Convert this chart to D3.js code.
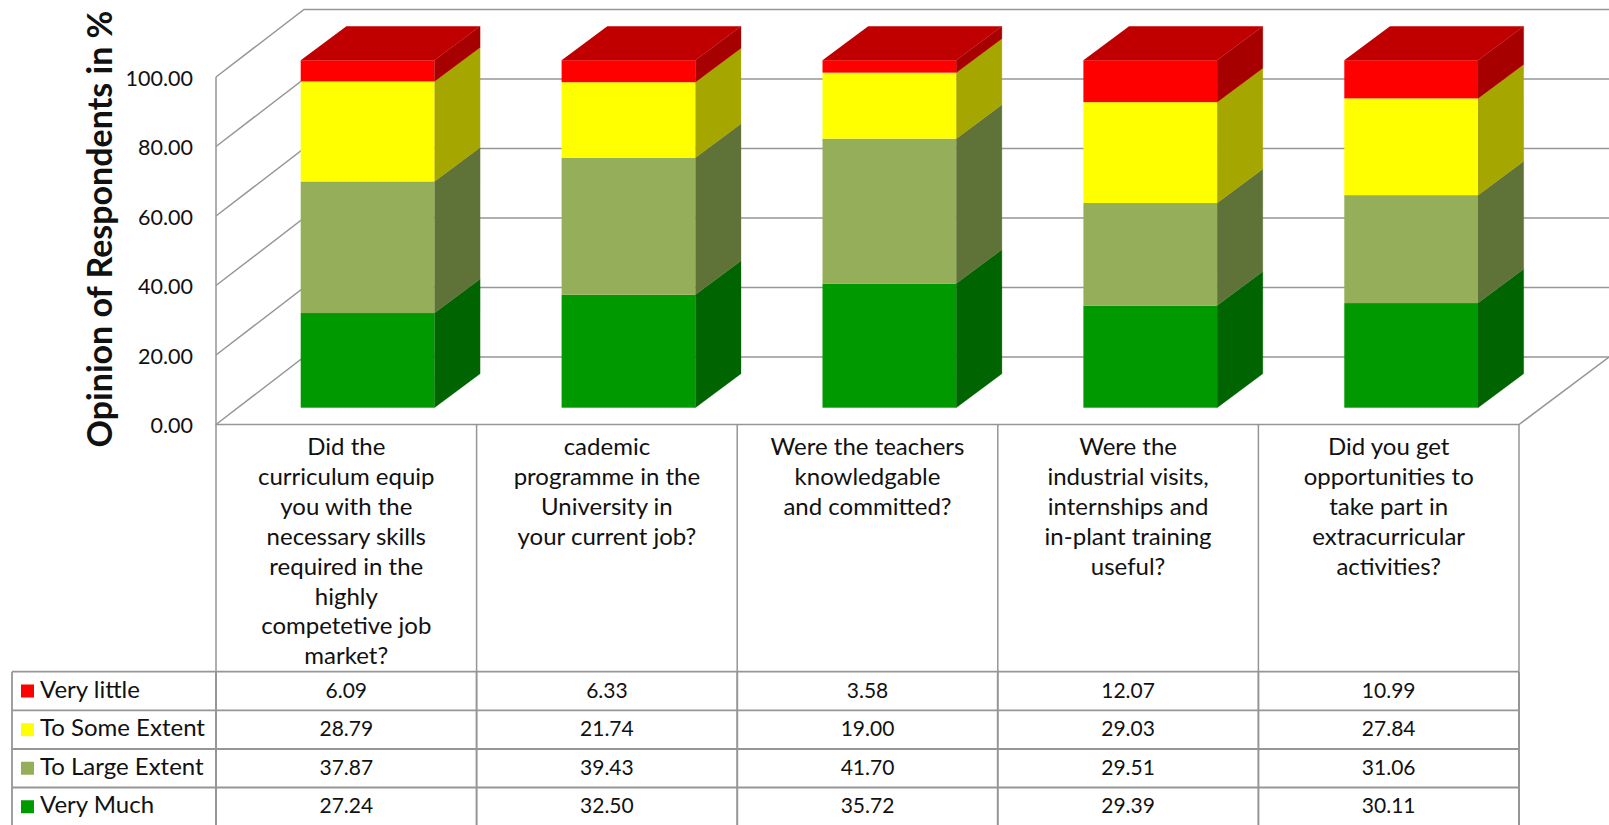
<!DOCTYPE html>
<html><head><meta charset="utf-8">
<script src="https://cdn.jsdelivr.net/npm/d3@7"></script>
<style>html,body{margin:0;background:#fff}svg{display:block}text{font-family:"Lato",sans-serif;fill:#111}</style>
</head><body><svg id="c" width="1609" height="825"></svg>
<script>
const categories=[
 ["Did the","curriculum equip","you with the","necessary skills","required in the","highly","competetive job","market?"],
 ["cademic","programme in the","University in","your current job?"],
 ["Were the teachers","knowledgable","and committed?"],
 ["Were the","industrial visits,","internships and","in-plant training","useful?"],
 ["Did you get","opportunities to","take part in","extracurricular","activities?"]];
const seriesNames=["Very Much","To Large Extent","To Some Extent","Very little"];
const veryMuch=[27.24,32.50,35.72,29.39,30.11];
const toLargeExtent=[37.87,39.43,41.70,29.51,31.06];
const toSomeExtent=[28.79,21.74,19.00,29.03,27.84];
const veryLittle=[6.09,6.33,3.58,12.07,10.99];
const yTicks=[0,20,40,60,80,100];
const yTitle="Opinion of Respondents in %";
const front=["#009900","#95AE59","#FFFF00","#FF0000"];
const side=["#006400","#5F7238","#A6A600","#A60000"];
const topColor="#C00000";
const values=[veryMuch,toLargeExtent,toSomeExtent,veryLittle];

const svg=d3.select("#c");
const grid="#969696";
const idx=d3.range(categories.length);
const x=d3.scaleBand().domain(idx).range([216,1519]);
const xBar=d3.scaleBand().domain(idx).range([216,1520.5]);
const yFront=d3.scaleLinear().domain([0,100]).range([424.5,77]);
const wall={dx:88,dy:-67.5};
const bar={offset:84.7,w:133.7,dx:45.7,dy:-34,up:-16.8};
const yBar=d3.scaleLinear().domain([0,100]).range([yFront(0)+bar.up,yFront(100)+bar.up]);

const g=svg.append("g").attr("fill","none").attr("stroke",grid).attr("stroke-width",1.5);
yTicks.forEach(t=>{
  const y=yFront(t);
  g.append("path").attr("d",d3.line()([[216,y],[216+wall.dx,y+wall.dy],[1609,y+wall.dy]]));
});
g.append("path").attr("d",d3.line()([[216,yFront(100)],[216,yFront(0)],[1519,yFront(0)],[1609,yFront(0)+wall.dy]]));

idx.forEach(i=>{
  const x0=xBar(i)+bar.offset,x1=x0+bar.w;
  const gb=svg.append("g");
  let acc=0;
  values.forEach((s,k)=>{
    const a=acc,b=acc+s[i];acc=b;
    const y0=yBar(a),y1=yBar(b);
    gb.append("path").attr("fill",side[k]).attr("stroke",side[k]).attr("stroke-width",.3)
      .attr("d",d3.line()([[x1,y0],[x1+bar.dx,y0+bar.dy],[x1+bar.dx,y1+bar.dy],[x1,y1]])+"Z");
    gb.append("rect").attr("x",x0).attr("y",y1).attr("width",bar.w).attr("height",y0-y1).attr("fill",front[k]);
  });
  const yt=yBar(acc);
  gb.append("path").attr("fill",topColor)
    .attr("d",d3.line()([[x0,yt],[x1,yt],[x1+bar.dx,yt+bar.dy],[x0+bar.dx,yt+bar.dy]])+"Z");
});

yTicks.forEach(t=>{
  svg.append("text").attr("x",193).attr("y",yFront(t)+8.5).attr("text-anchor","end")
    .attr("font-size",21.5).text(t.toFixed(2));
});
svg.append("text").attr("transform","translate(112,229) rotate(-90)").attr("text-anchor","middle")
  .attr("font-size",34).attr("font-weight",700).text(yTitle);

const rowsY=[671.7,710.3,749,787.5,826];
const tb=svg.append("g").attr("stroke",grid).attr("fill","none");
rowsY.slice(0,4).forEach(y=>tb.append("line").attr("stroke-width",1.8).attr("x1",12).attr("x2",1519).attr("y1",y).attr("y2",y));
tb.append("line").attr("stroke-width",1.8).attr("x1",12).attr("x2",12).attr("y1",rowsY[0]).attr("y2",825);
idx.concat([5]).forEach(i=>{
  const X=i<5?x(i):1519;
  tb.append("line").attr("stroke-width",1.5).attr("x1",X).attr("x2",X).attr("y1",yFront(0)).attr("y2",rowsY[0]);
  tb.append("line").attr("stroke-width",2).attr("x1",X).attr("x2",X).attr("y1",rowsY[0]).attr("y2",825);
});
categories.forEach((lines,i)=>{
  const cx=x(i)+x.bandwidth()/2;
  lines.forEach((l,j)=>svg.append("text").attr("x",cx).attr("y",455+j*29.9).attr("text-anchor","middle")
    .attr("font-size",24).text(l));
});
[3,2,1,0].forEach((k,r)=>{
  const ymid=(rowsY[r]+rowsY[r+1])/2;
  svg.append("rect").attr("x",21).attr("y",ymid-6.5).attr("width",13).attr("height",13).attr("fill",front[k]);
  svg.append("text").attr("x",40).attr("y",ymid+6.5).attr("font-size",24).text(seriesNames[k]);
  idx.forEach(i=>svg.append("text").attr("x",x(i)+x.bandwidth()/2).attr("y",ymid+6.5).attr("text-anchor","middle")
    .attr("font-size",21).text(values[k][i].toFixed(2)));
});
</script></body></html>
